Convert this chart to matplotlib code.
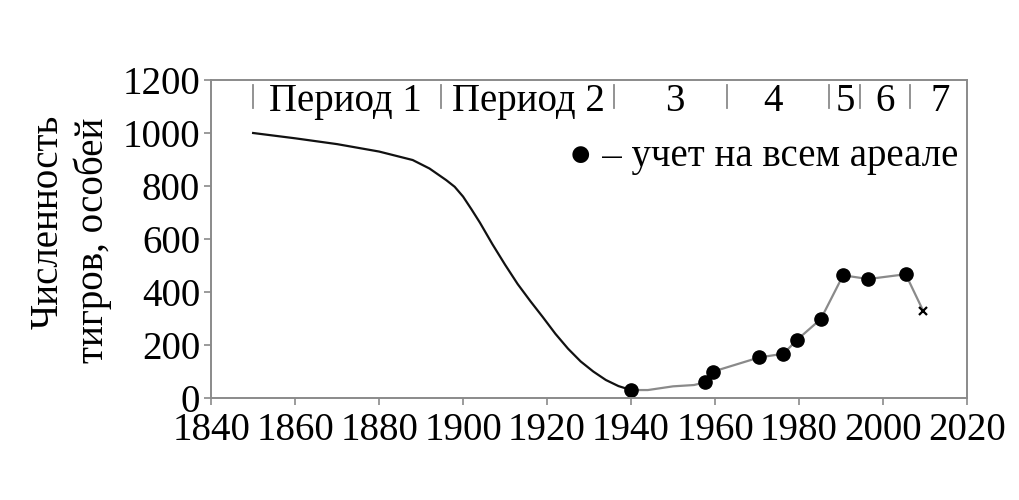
import matplotlib
matplotlib.use('Agg')
import matplotlib.pyplot as plt

#Data
decline_years = [1850, 1860, 1870, 1880, 1888, 1892, 1896, 1898, 1900, 1902, 1904, 1907,
                 1910, 1913, 1916, 1919, 1922, 1925, 1928, 1931, 1934, 1937, 1940]
decline_values = [1000, 980, 958, 930, 898, 866, 822, 797, 760, 712, 662, 580,
                  503, 430, 366, 305, 242, 186, 138, 100, 68, 45, 30]

gap_years = [1940, 1944, 1950, 1955, 1957.6]
gap_values = [30, 30, 44, 49, 59]

census_years = [1940, 1957.6, 1959.4, 1970.5, 1976.3, 1979.5, 1985.2, 1990.5, 1996.5, 2005.4]
census_values = [30, 59, 99, 153, 167, 219, 298, 463, 449, 467]

estimate_year = [2009.6]
estimate_value = [328]

period_bounds = [1850, 1894.7, 1936, 1962.8, 1987.2, 1994.5, 2006.4]
period_labels = ['Период 1', 'Период 2', '3', '4', '5', '6', '7']
period_label_x = [1872, 1915.5, 1950.5, 1973.8, 1991, 2000.5, 2013.6]

x_ticks = list(range(1840, 2021, 20))
y_ticks = list(range(0, 1201, 200))

plt.rcParams['font.family'] = ['Liberation Serif', 'DejaVu Serif']

fig = plt.figure(figsize=(10.2, 5), dpi=100)
ax = fig.add_axes([0.207, 0.204, 0.741, 0.636])

GRAY = '#8a8a8a'
ax.plot(decline_years, decline_values, color='#111111', lw=1.6)
ax.plot(gap_years + census_years[1:] + estimate_year,
        gap_values + census_values[1:] + estimate_value, color=GRAY, lw=1.6)
ax.plot(census_years, census_values, 'o', color='black', ms=9.5)
ax.plot(estimate_year, estimate_value, 'x', color='black', ms=6, mew=1.6)

ax.set_xlim(1840, 2020)
ax.set_ylim(0, 1200)
ax.set_xticks(x_ticks)
ax.set_yticks(y_ticks)
ax.tick_params(direction='out', length=5, width=1.2, color=GRAY, labelsize=28)
ax.tick_params(axis='x', pad=5)
ax.tick_params(axis='y', pad=3)
for s in ax.spines.values():
    s.set_color(GRAY)
    s.set_linewidth(1.4)

#period separators and labels
for b in period_bounds:
    ax.plot([b, b], [1095, 1180], color=GRAY, lw=1.3)
for lab, x in zip(period_labels, period_label_x):
    ax.text(x, 1120, lab, ha='center', va='center', fontsize=28)

ax.text(2018, 910, '● – учет на всем ареале', ha='right', va='center', fontsize=28)

#two-line y label, lines placed separately as in the source
fig.text(48 / 1020, 1 - 222 / 500, 'Численность', rotation=90, ha='center', va='center', fontsize=28)
fig.text(93 / 1020, 1 - 240 / 500, 'тигров, особей', rotation=90, ha='center', va='center', fontsize=28)

fig.savefig('out.png', dpi=100)
